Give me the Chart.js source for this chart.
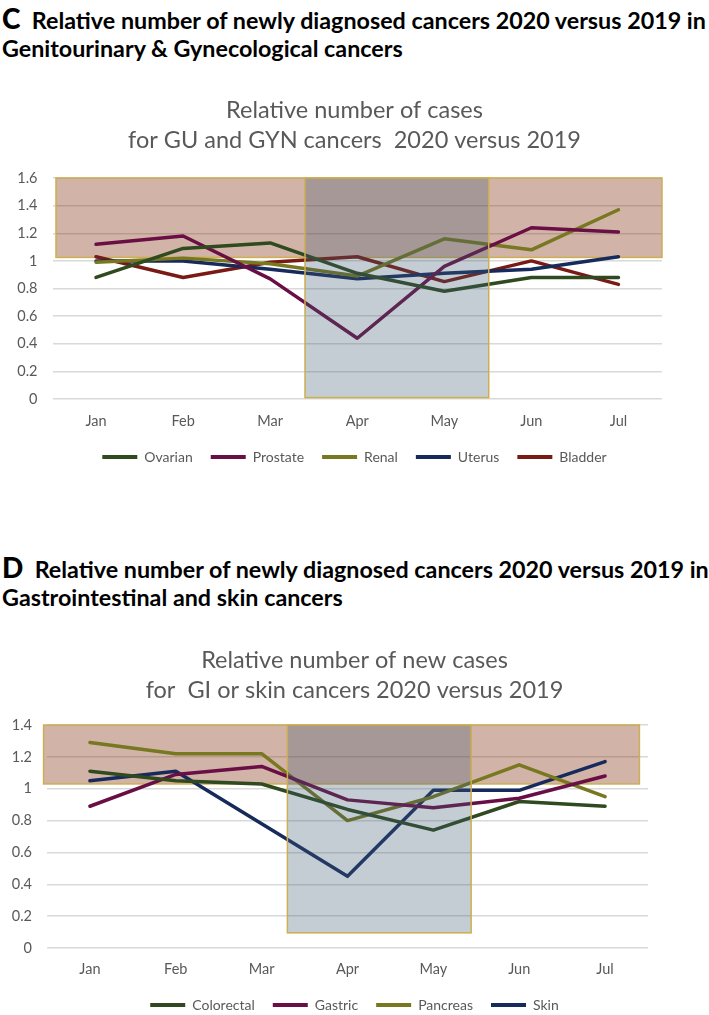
<!DOCTYPE html>
<html><head><meta charset="utf-8">
<script src="https://cdn.jsdelivr.net/npm/chart.js@4.4.0/dist/chart.umd.min.js"></script>
<style>
html,body{margin:0;padding:0;background:#fff}
body{width:709px;height:1015px;position:relative;overflow:hidden;font-family:Lato,"Open Sans",sans-serif}
.h{position:absolute;left:2px;font-weight:bold;color:#000;white-space:nowrap;font-size:23.3px;line-height:28px}
.h b{font-size:28px}
.cv{position:absolute;left:0;width:709px}
</style></head><body>
<div class="h" style="top:4px"><b>C</b>&nbsp; Relative number of newly diagnosed cancers 2020 versus 2019 in<br>Genitourinary &amp; Gynecological cancers</div>
<div class="cv" style="top:80px;height:394px"><canvas id="c1"></canvas></div>
<div class="h" style="top:553px"><b>D</b>&nbsp; Relative number of newly diagnosed cancers 2020 versus 2019 in<br>Gastrointestinal and skin cancers</div>
<div class="cv" style="top:630px;height:392px"><canvas id="c2"></canvas></div>
<script>
// ---- data ----
const months = ['Jan','Feb','Mar','Apr','May','Jun','Jul'];
// Panel C: GU and GYN cancers
const ovarian  = [0.88, 1.09, 1.13, 0.91, 0.78, 0.88, 0.88];
const prostate = [1.12, 1.18, 0.87, 0.44, 0.96, 1.24, 1.21];
const renal    = [0.99, 1.02, 0.98, 0.89, 1.16, 1.08, 1.37];
const uterus   = [1.00, 1.00, 0.94, 0.87, 0.91, 0.94, 1.03];
const bladder  = [1.03, 0.88, 0.99, 1.03, 0.85, 1.00, 0.83];
// Panel D: GI and skin cancers
const colorectal = [1.11, 1.05, 1.03, 0.87, 0.74, 0.92, 0.89];
const gastric    = [0.89, 1.09, 1.14, 0.93, 0.88, 0.94, 1.08];
const pancreas   = [1.29, 1.22, 1.22, 0.80, 0.95, 1.15, 0.95];
const skin       = [1.05, 1.11, 0.78, 0.45, 0.99, 0.99, 1.17];
// shaded regions (axis units: category index from/to, value from/to)
const bandC  = [-0.46, 6.50, 1.025, 1.6];   // brown band (above 1)
const lockC  = [2.40, 4.51, 0.01, 1.6];     // Apr-May box
const bandD  = [-0.54, 6.40, 1.03, 1.4];
const lockD  = [2.30, 4.44, 0.095, 1.4];
const titleC = ['Relative number of cases', 'for GU and GYN cancers  2020 versus 2019'];
const titleD = ['Relative number of new cases', 'for  GI or skin cancers 2020 versus 2019'];

const COL = {green:'#2E4A1E', purple:'#6A0F45', olive:'#77781F', navy:'#172A5C', red:'#7A1A14'};
const BROWN = 'rgba(122,36,2,0.35)';
const BLUE = 'rgba(62,88,112,0.30)';
const EDGE = '#CDAE52';
const FONT = 'Lato, "Open Sans", sans-serif';
const GREY = '#595959';

function drawRect(chart, r, fill) {
  const {ctx, scales: {x, y}} = chart;
  const l = x.getPixelForValue(r[0]), rt = x.getPixelForValue(r[1]);
  const b = y.getPixelForValue(r[2]), t = y.getPixelForValue(r[3]);
  ctx.save();
  ctx.fillStyle = fill;
  ctx.fillRect(l, t, rt - l, b - t);
  ctx.strokeStyle = EDGE;
  ctx.lineWidth = 1.5;
  ctx.strokeRect(l, t, rt - l, b - t);
  ctx.restore();
}
const boxPlugin = {
  id: 'boxes',
  beforeDatasetsDraw(chart, args, opts) { drawRect(chart, opts.band, BROWN); },
  afterDatasetsDraw(chart, args, opts) { drawRect(chart, opts.lock, BLUE); }
};

function make(id, sets, ymax, title, band, lock, yW, rW, xH, tPadB, tickPad) {
  return new Chart(document.getElementById(id), {
    type: 'line',
    data: {
      labels: months,
      datasets: sets.map(s => ({
        label: s[0], data: s[1], borderColor: s[2], backgroundColor: s[2],
        borderWidth: 3.5, pointRadius: 0, tension: 0,
        borderCapStyle: 'round', borderJoinStyle: 'round'
      }))
    },
    options: {
      responsive: true, maintainAspectRatio: false, animation: false,
      layout: {padding: 0},
      scales: {
        x: {
          offset: true,
          grid: {display: false, drawTicks: false}, border: {display: false},
          ticks: {color: GREY, font: {family: FONT, size: 14.5}, padding: tickPad, maxRotation: 0},
          afterFit(s) { s.height = xH; }
        },
        y: {
          min: 0, max: ymax,
          grid: {color: '#D9D9D9', lineWidth: 1.4, drawTicks: false},
          border: {display: false},
          ticks: {stepSize: 0.2, color: GREY, font: {family: FONT, size: 14.5}, padding: 15,
                  callback: v => String(Math.round(v * 10) / 10)},
          afterFit(s) { s.width = yW; }
        },
        yR: {
          position: 'right', display: true,
          grid: {display: false}, border: {display: false},
          ticks: {display: false},
          afterFit(s) { s.width = rW; }
        }
      },
      plugins: {
        title: {
          display: true, text: title, color: GREY,
          font: {family: FONT, size: 23.5, weight: 'normal', lineHeight: 1.277},
          padding: {top: 15, bottom: tPadB}
        },
        legend: {
          position: 'bottom',
          labels: {
            boxWidth: 35, boxHeight: 4, padding: 18,
            color: GREY, font: {family: FONT, size: 14},
            generateLabels(chart) {
              return chart.data.datasets.map((d, i) => ({
                text: d.label, fillStyle: d.borderColor, strokeStyle: d.borderColor,
                lineWidth: 0, hidden: false, datasetIndex: i, fontColor: GREY
              }));
            }
          }
        },
        tooltip: {enabled: false},
        boxes: {band: band, lock: lock}
      }
    },
    plugins: [boxPlugin]
  });
}

make('c1', [
  ['Ovarian', ovarian, COL.green],
  ['Prostate', prostate, COL.purple],
  ['Renal', renal, COL.olive],
  ['Uterus', uterus, COL.navy],
  ['Bladder', bladder, COL.red]
], 1.6, titleC, bandC, lockC, 52.5, 47, 33, 23, 14);

make('c2', [
  ['Colorectal', colorectal, COL.green],
  ['Gastric', gastric, COL.purple],
  ['Pancreas', pancreas, COL.olive],
  ['Skin', skin, COL.navy]
], 1.4, titleD, bandD, lockD, 47, 61, 32, 20, 13);
</script>
</body></html>
